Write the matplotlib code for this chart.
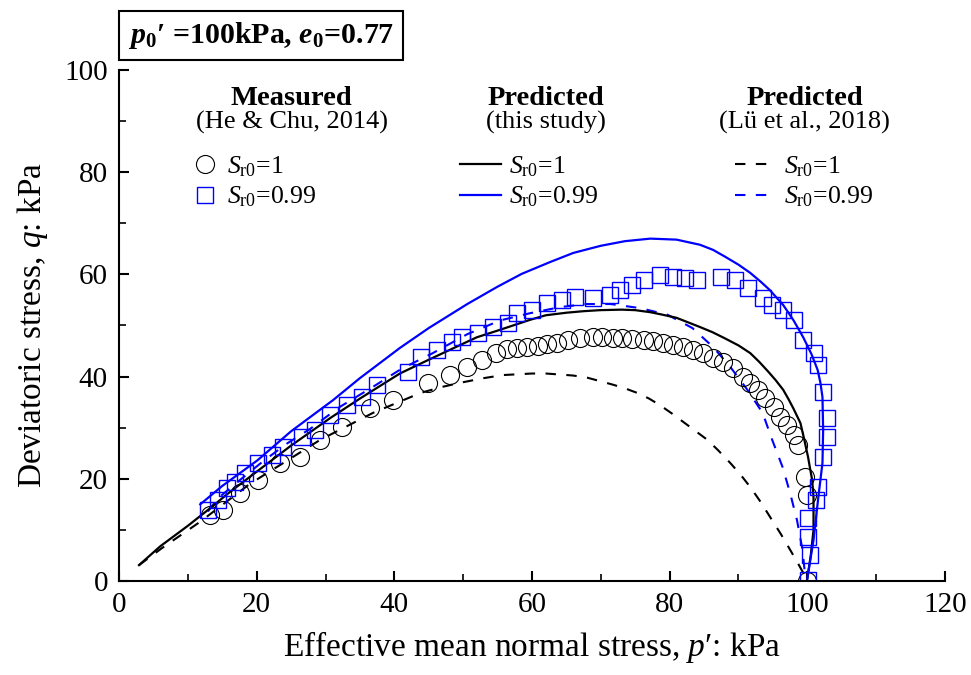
import matplotlib
matplotlib.use("Agg")
import matplotlib.pyplot as plt
from matplotlib.ticker import MultipleLocator

plt.rcParams['font.family'] = ['Liberation Serif', 'DejaVu Serif']
plt.rcParams['mathtext.fontset'] = 'custom'
plt.rcParams['mathtext.rm'] = 'Liberation Serif'
plt.rcParams['mathtext.it'] = 'Liberation Serif:italic'
plt.rcParams['mathtext.bf'] = 'Liberation Serif:bold'
plt.rcParams['mathtext.bfit'] = 'Liberation Serif:italic:bold'

# measured, He & Chu (2014), Sr0 = 1 (circles)
meas_p1 = [13.2, 15.1, 17.6, 20.2, 23.4, 26.3, 29.2, 32.4, 36.5, 39.8, 44.9, 48.1, 50.6,
           52.8, 54.7, 56.4, 57.8, 59.3, 60.8, 62.2, 63.7, 65.3, 67.0, 68.8, 70.2, 71.7,
           73.1, 74.6, 76.2, 77.6, 79.1, 80.5, 82.0, 83.4, 84.9, 86.3, 87.8, 89.2, 90.6,
           91.7, 92.9, 93.9, 95.1, 96.1, 97.1, 98.0, 98.7, 99.7, 100.0, 100.0]
meas_q1 = [12.9, 13.9, 17.2, 19.8, 23.1, 24.3, 27.6, 30.1, 33.9, 35.4, 38.7, 40.3, 41.9,
           43.2, 44.6, 45.4, 45.6, 45.8, 46.0, 46.4, 46.6, 47.2, 47.6, 47.7, 47.7, 47.6,
           47.6, 47.4, 47.2, 47.0, 46.6, 46.2, 45.8, 45.2, 44.6, 43.6, 42.9, 41.7, 39.9,
           38.7, 37.4, 35.8, 34.1, 32.1, 30.5, 28.6, 26.6, 20.4, 16.8, 0.0]

# measured, Sr0 = 0.99 (squares)
meas_p2 = [12.9, 14.4, 15.7, 16.9, 18.3, 20.2, 22.2, 23.8, 26.6, 28.5, 30.7, 33.1, 35.3,
           37.5, 42.0, 43.8, 46.2, 48.4, 49.9, 52.2, 54.4, 56.5, 57.8, 60.0, 62.2, 64.4,
           66.3, 68.9, 71.4, 72.8, 74.6, 76.2, 78.6, 80.5, 82.3, 84.0, 87.4, 89.5, 91.4,
           93.6, 94.9, 96.4, 98.0, 99.4, 100.9, 101.6, 102.3, 102.9, 102.9, 102.3, 101.5,
           101.2, 100.1, 100.1, 100.4, 100.1]
meas_q2 = [13.9, 15.9, 18.2, 19.4, 21.1, 23.1, 24.7, 26.2, 28.2, 29.6, 32.5, 34.4, 36.0,
           38.4, 40.9, 43.8, 45.2, 46.8, 47.7, 48.5, 49.7, 50.5, 52.4, 53.0, 54.4, 55.0,
           55.6, 55.4, 56.0, 56.9, 57.9, 58.9, 59.9, 59.5, 59.3, 58.9, 59.5, 58.9, 57.3,
           55.4, 54.0, 53.0, 51.1, 47.2, 44.6, 42.3, 37.0, 31.9, 28.2, 24.3, 18.4,
           15.9, 12.3, 8.6, 5.1, 0.2]

# predicted, this study
pred_p1 = [2.9, 6.0, 10.0, 13.2, 16.0, 20.5, 25.0, 30.7, 35.0, 40.8, 45.0, 49.6, 52.0,
           55.0, 59.7, 62.0, 65.0, 67.5, 69.9, 73.0, 75.0, 77.2, 79.0, 81.0, 84.4, 86.2,
           88.0, 90.0, 91.7, 93.0, 94.3, 95.4, 96.5, 97.3, 98.0, 99.0, 99.5, 100.1, 100.4,
           100.7, 100.9, 100.9, 100.5, 100.0]
pred_q1 = [3.1, 6.8, 10.8, 14.2, 17.3, 21.9, 26.5, 31.9, 35.7, 40.6, 43.3, 46.2, 47.7,
           49.0, 51.1, 52.0, 52.5, 52.8, 53.0, 53.1, 53.0, 52.6, 52.1, 51.5, 49.7, 48.7,
           47.5, 46.1, 44.6, 42.9, 41.0, 39.3, 37.4, 35.5, 33.7, 30.9, 28.0, 24.3, 22.0,
           19.8, 16.4, 10.0, 5.0, 0.5]
pred_p2 = [11.8, 15.0, 20.1, 25.0, 31.1, 35.0, 40.8, 45.0, 50.6, 55.0, 58.5, 62.6, 66.0,
           70.0, 73.5, 77.2, 81.0, 84.4, 86.3, 88.0, 90.0, 91.7, 93.2, 94.5, 96.5, 98.0,
           99.4, 100.6, 101.5, 101.9, 102.2, 102.3, 102.2, 101.6, 100.9, 100.0]
pred_q2 = [15.0, 18.6, 23.6, 29.3, 35.4, 39.7, 45.6, 49.5, 54.2, 57.6, 60.1, 62.4, 64.2,
           65.6, 66.5, 67.0, 66.8, 65.8, 64.8, 63.5, 61.9, 60.3, 58.6, 57.0, 54.0, 51.0,
           47.7, 44.4, 41.3, 38.8, 36.0, 29.5, 23.1, 16.4, 8.0, 0.5]

# predicted, Lu et al. (2018)
lu_p1 = [2.9, 6.2, 11.8, 19.0, 24.0, 29.2, 36.9, 43.8, 47.0, 50.0, 53.0, 55.8, 60.0, 62.0,
         64.1, 66.0, 68.0, 71.8, 73.5, 75.3, 77.0, 78.6, 80.3, 82.0, 83.7, 85.5, 87.1,
         88.8, 90.3, 91.7, 93.2, 94.6, 96.1, 97.5, 98.5, 99.4, 100.0]
lu_q1 = [3.1, 6.4, 11.6, 19.0, 23.2, 27.6, 32.9, 36.8, 38.0, 38.9, 39.7, 40.3, 40.6, 40.6,
         40.4, 40.2, 39.8, 38.4, 37.7, 36.8, 35.7, 34.4, 32.8, 31.1, 29.4, 27.6, 25.5,
         23.1, 20.8, 18.4, 15.5, 12.5, 9.3, 6.1, 3.8, 1.6, 0.0]
lu_p2 = [12.9, 14.4, 17.6, 21.0, 24.4, 27.8, 32.0, 36.9, 41.0, 45.6, 50.6, 55.4, 59.7, 64.1,
         68.0, 71.4, 75.7, 79.7, 83.3, 86.3, 88.8, 91.3, 93.5, 94.9, 96.4, 97.5, 98.5,
         99.3, 99.7]
lu_q2 = [13.6, 16.2, 19.8, 23.5, 26.9, 29.8, 34.0, 38.0, 41.5, 44.6, 48.3, 51.0, 52.4, 53.6,
         54.2, 54.2, 53.4, 52.1, 49.5, 45.8, 41.9, 37.4, 32.9, 27.6, 22.3, 17.2, 11.9,
         6.1, 0.8]

BLUE = '#0000ff'
lab1 = r'$S_{\mathrm{r0}}$=1'
lab2 = r'$S_{\mathrm{r0}}$=0.99'

fig = plt.figure(figsize=(9.71, 6.75), dpi=100)
ax = fig.add_axes([0.1226, 0.1393, 0.8506, 0.7570])

h_lu1, = ax.plot(lu_p1, lu_q1, color='black', lw=1.5, dashes=(5, 5))
h_lu2, = ax.plot(lu_p2, lu_q2, color=BLUE, lw=1.5, dashes=(5, 5))
h_pr1, = ax.plot(pred_p1, pred_q1, color='black', lw=1.6)
h_pr2, = ax.plot(pred_p2, pred_q2, color=BLUE, lw=1.6)
h_m1, = ax.plot(meas_p1, meas_q1, ls='none', marker='o', ms=13, mfc='none',
                mec='black', mew=0.8)
h_m2, = ax.plot(meas_p2, meas_q2, ls='none', marker='s', ms=12, mfc='none',
                mec=BLUE, mew=1.0)

ax.set_xlim(0, 120)
ax.set_ylim(0, 100)
ax.xaxis.set_major_locator(MultipleLocator(20))
ax.xaxis.set_minor_locator(MultipleLocator(10))
ax.yaxis.set_major_locator(MultipleLocator(20))
ax.yaxis.set_minor_locator(MultipleLocator(10))
ax.spines['top'].set_visible(False)
ax.spines['right'].set_visible(False)
for s in ['left', 'bottom']:
    ax.spines[s].set_linewidth(1.5)
ax.tick_params(which='major', direction='in', length=7, width=1.5, labelsize=21, pad=8)
ax.tick_params(which='minor', direction='in', length=5, width=1.2)
ax.set_xlabel("Effective mean normal stress, $p$′: kPa", fontsize=24, labelpad=8)
ax.set_ylabel("Deviatoric stress, $q$: kPa", fontsize=24, labelpad=10)

# column headers
for xc, head, sub in [(0.209, 'Measured', '(He & Chu, 2014)'),
                      (0.517, 'Predicted', '(this study)'),
                      (0.830, 'Predicted', '(Lü et al., 2018)')]:
    ax.text(xc, 0.945, head, transform=ax.transAxes, ha='center', va='center',
            fontsize=20.5, fontweight='bold')
    ax.text(xc, 0.898, sub, transform=ax.transAxes, ha='center', va='center', fontsize=19)

leg_kw = dict(frameon=False, fontsize=18.5, loc='upper left', borderpad=0,
              labelspacing=0.22, borderaxespad=0)
l1 = ax.legend([h_m1, h_m2], [lab1, lab2], bbox_to_anchor=(0.092, 0.835),
               handlelength=0.8, handletextpad=0.45, **leg_kw)
ax.add_artist(l1)
l2 = ax.legend([h_pr1, h_pr2], [lab1, lab2], bbox_to_anchor=(0.413, 0.835),
               handlelength=1.6, handletextpad=0.3, **leg_kw)
ax.add_artist(l2)
l3 = ax.legend([h_lu1, h_lu2], [lab1, lab2], bbox_to_anchor=(0.746, 0.835),
               handlelength=1.6, handletextpad=0.3, **leg_kw)

fig.text(0.132, 0.948, r"$\mathbfit{p}_\mathbf{0}$′ =100kPa, $\mathbfit{e}_\mathbf{0}$=0.77",
         fontsize=21.5, fontweight='bold', ha='left', va='center',
         bbox=dict(boxstyle='square,pad=0.3', fc='white', ec='black', lw=1.5))

fig.savefig('out.png', dpi=100)
